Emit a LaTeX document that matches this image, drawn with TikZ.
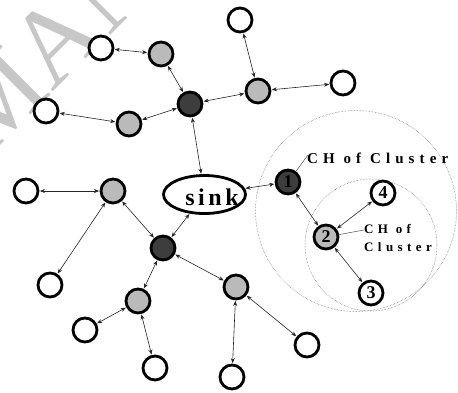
\documentclass[tikz,border=0pt]{standalone}
\usepackage{fontspec}
\setmainfont{Liberation Serif}
\newfontfamily\spacedfont[LetterSpace=34]{Liberation Serif}
\newfontfamily\sinkfont[LetterSpace=15]{Liberation Serif}
\usetikzlibrary{arrows.meta,shapes.geometric}
\begin{document}
\begin{tikzpicture}[x=1pt,y=-1pt,
  sensor/.style={circle,draw=black,line width=2.8pt,minimum size=24pt,inner sep=0pt,
                 fill=white,font=\bfseries\fontsize{18}{18}\selectfont},
  plain/.style={sensor},
  member/.style={sensor,fill=black!27},
  head/.style={sensor,fill=black!76},
  link/.style={{Stealth[length=5pt,width=4pt]}-{Stealth[length=5pt,width=4pt]},
               line width=0.6pt,black!85,shorten <=0.5pt,shorten >=0.5pt},
  ring/.style={densely dotted,line width=0.5pt,black!60},
  leader/.style={line width=0.5pt,black!70},
]
\useasboundingbox (0,0) rectangle (458,392);
\fill[white] (0,0) rectangle (458,392);

% faint watermark lettering
\node[rotate=45,text=black!22,font=\fontsize{108}{108}\selectfont,inner sep=0pt] (wm) at (49,46) {MAN};

% cluster boundaries
\draw[ring] (356,211) circle[radius=100.5pt];
\draw[ring] (371,245) circle[radius=66pt];

% sink
\node[ellipse,draw=black,line width=2.8pt,fill=white,minimum width=82pt,minimum height=38pt,inner sep=0pt] (sink) at (204.5,194.5) {};
\node[anchor=base,font=\sinkfont\bfseries\fontsize{24}{24}\selectfont,inner sep=0pt] (sinktext) at (212,205) {sink};

% upper group
\node[head]   (d1) at (190,104) {};
\node[member] (g1) at (161,54) {};
\node[plain]  (w1) at (101,48) {};
\node[member] (g2) at (129,124) {};
\node[plain]  (w2) at (46,111) {};
\node[member] (g3) at (258,91) {};
\node[plain]  (w3) at (240,20) {};
\node[plain]  (w4) at (343,83) {};

% lower group
\node[member] (g4) at (113,191) {};
\node[plain]  (w5) at (26,191) {};
\node[plain]  (w6) at (50,285) {};
\node[head]   (d2) at (163,248) {};
\node[member] (g5) at (138,301) {};
\node[plain]  (w7) at (85,330) {};
\node[plain]  (w8) at (155,368) {};
\node[member] (g6) at (236,287) {};
\node[plain]  (w9) at (307,345) {};
\node[plain]  (w10) at (232,377) {};

% numbered cluster
\node[head]   (n1) at (288,182) {1};
\node[member] (n2) at (326,237) {2};
\node[plain]  (n4) at (383,193) {4};
\node[plain]  (n3) at (371,293) {3};

% links
\draw[link] (d1) -- (g1);
\draw[link] (d1) -- (g2);
\draw[link] (d1) -- (g3);
\draw[link] (g1) -- (w1);
\draw[link] (g2) -- (w2);
\draw[link] (g3) -- (w3);
\draw[link] (g3) -- (w4);
\draw[link] (d1) -- (sink);
\draw[link] (sink) -- (d2);
\draw[link] (sink) -- (n1);
\draw[link] (d2) -- (g4);
\draw[link] (d2) -- (g5);
\draw[link] (d2) -- (g6);
\draw[link] (g4) -- (w5);
\draw[link] (g4) -- (w6);
\draw[link] (g5) -- (w7);
\draw[link] (g5) -- (w8);
\draw[link] (g6) -- (w9);
\draw[link] (g6) -- (w10);
\draw[link] (n1) -- (n2);
\draw[link] (n2) -- (n4);
\draw[link] (n2) -- (n3);

% cluster-head labels
\coordinate (c1) at (308,155);
\coordinate (c2) at (364,230);
\draw[leader] (n1) -- (c1);
\draw[leader] (n2) -- (c2);
\node[anchor=base west,inner sep=0pt,font=\spacedfont\bfseries\fontsize{15}{15}\selectfont] (lab1) at (307,163) {CH of Cluster};
\node[anchor=north west,inner sep=0pt,align=left,font=\spacedfont\bfseries\fontsize{13}{18}\selectfont] (lab2) at (364,224) {CH of\\ Cluster};
\end{tikzpicture}
\end{document}
